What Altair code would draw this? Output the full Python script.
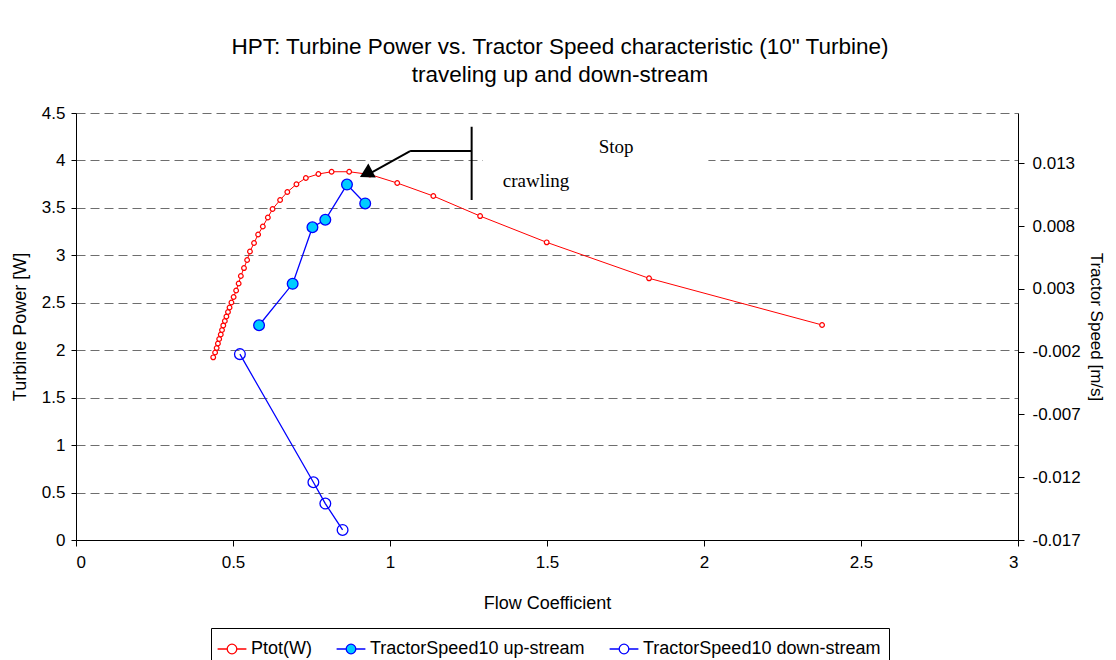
import altair as alt
import pandas as pd

# ---------------- data ----------------
series_names = ["Ptot(W)", "TractorSpeed10 up-stream", "TractorSpeed10 down-stream"]

ptot_flow = [0.437, 0.443, 0.448, 0.452, 0.456, 0.461, 0.465, 0.469, 0.474, 0.479,
             0.484, 0.489, 0.495, 0.502, 0.510, 0.518, 0.525, 0.535, 0.545, 0.554,
             0.567, 0.580, 0.595, 0.611, 0.626, 0.650, 0.673, 0.702, 0.732, 0.772,
             0.814, 0.870, 0.936, 1.023, 1.138, 1.287, 1.499, 1.825, 2.376]
ptot_power = [1.925, 1.976, 2.023, 2.071, 2.118, 2.166, 2.213, 2.261, 2.308, 2.355,
              2.403, 2.450, 2.503, 2.561, 2.629, 2.703, 2.782, 2.866, 2.951, 3.040,
              3.130, 3.220, 3.304, 3.399, 3.488, 3.583, 3.667, 3.749, 3.815, 3.857,
              3.881, 3.881, 3.852, 3.762, 3.625, 3.414, 3.137, 2.758, 2.266]

up_flow = [0.583, 0.690, 0.753, 0.794, 0.863, 0.921]
up_speed = [0.0001, 0.0034, 0.0079, 0.0085, 0.0113, 0.0098]

down_flow = [0.522, 0.756, 0.794, 0.849]
down_speed = [-0.0022, -0.0124, -0.0141, -0.0162]

x_ticks = [0, 0.5, 1, 1.5, 2, 2.5, 3]
yl_ticks = [0, 0.5, 1, 1.5, 2, 2.5, 3, 3.5, 4, 4.5]
yr_ticks = [-0.017, -0.012, -0.007, -0.002, 0.003, 0.008, 0.013]

# annotation: bracket + arrow and the two labels
seg_flow = [1.064, 1.260, 1.064]
seg_flow2 = [1.260, 1.260, 0.935]
seg_power = [4.099, 4.355, 4.099]
seg_power2 = [4.099, 3.583, 3.862]
head_flow = [0.930]
head_power = [3.871]
label_text = ["Stop", "crawling"]
label_flow = [1.720, 1.465]
label_power = [4.142, 3.783]
mask_flow = [1.296]
mask_flow2 = [2.014]
mask_power = [4.34]
mask_power2 = [3.64]

# ---------------- tables ----------------
df_p = pd.DataFrame({"flow": ptot_flow, "power": ptot_power, "series": series_names[0]})
df_s = pd.concat([
    pd.DataFrame({"flow": up_flow, "speed": up_speed, "series": series_names[1]}),
    pd.DataFrame({"flow": down_flow, "speed": down_speed, "series": series_names[2]}),
], ignore_index=True)
df_seg = pd.DataFrame({"flow": seg_flow, "flow2": seg_flow2, "power": seg_power, "power2": seg_power2})
df_head = pd.DataFrame({"flow": head_flow, "power": head_power})
df_lab = pd.DataFrame({"flow": label_flow, "power": label_power, "label": label_text})
df_mask = pd.DataFrame({"flow": mask_flow, "flow2": mask_flow2, "power": mask_power, "power2": mask_power2})

FONT = "Liberation Sans"
RED = "#FF0000"
BLUE = "#0000FF"
CYAN = "#00CCFF"

x_scale = alt.Scale(domain=[0, 3], nice=False, zero=False)
yl_scale = alt.Scale(domain=[0, 4.5], nice=False)
yr_scale = alt.Scale(domain=[-0.017, 0.017], nice=False, zero=False)

x_axis = alt.Axis(title="Flow Coefficient", values=x_ticks, format="~g", grid=False,
                  tickSize=6, labelPadding=8, titlePadding=24)
yl_axis = alt.Axis(title="Turbine Power [W]", values=yl_ticks, format="~g", grid=True,
                   gridDash=[9, 5], gridColor="#6e6e6e", gridWidth=1.2,
                   tickSize=5, labelPadding=6, titlePadding=12, orient="left")
yr_axis = alt.Axis(title="Tractor Speed [m/s]", values=yr_ticks,
                   labelExpr="(datum.value < 0 ? '-' : '') + format(abs(datum.value), '.3f')",
                   grid=False, tickSize=6, labelPadding=8, titlePadding=6,
                   titleFontSize=17, orient="right")

SYMBOL = "M-1.2,0H-0.4M0.4,0H1.2M0.4,0A0.4,0.4,0,1,1,-0.4,0A0.4,0.4,0,1,1,0.4,0Z"
legend = alt.Legend(title=None, orient="none", legendX=135, legendY=515,
                    direction="horizontal", columns=3, symbolType=SYMBOL, symbolSize=576,
                    symbolStrokeWidth=1.3, labelFontSize=18, labelFont=FONT,
                    labelColor="black", labelOffset=6, columnPadding=22, padding=8,
                    strokeColor="black", fillColor="white", labelLimit=400)

stroke_enc = alt.Stroke("series:N", scale=alt.Scale(domain=series_names, range=[RED, BLUE, BLUE]),
                        legend=legend)
fill_enc = alt.Fill("series:N", scale=alt.Scale(domain=series_names, range=["#FFFFFF", CYAN, "transparent"]),
                    legend=legend)

X = alt.X("flow:Q", scale=x_scale, axis=x_axis)
YL = alt.Y("power:Q", scale=yl_scale, axis=yl_axis)
YR = alt.Y("speed:Q", scale=yr_scale, axis=yr_axis)

mask = alt.Chart(df_mask).mark_rect(color="white").encode(x=X, x2="flow2:Q", y=YL, y2="power2:Q")
red_line = alt.Chart(df_p).mark_line(color=RED, strokeWidth=1).encode(x=X, y=YL)
red_pts = alt.Chart(df_p).mark_point(size=22, strokeWidth=1.2, opacity=1).encode(
    x=X, y=YL, stroke=stroke_enc, fill=fill_enc)
rules = alt.Chart(df_seg).mark_rule(color="black", strokeWidth=2).encode(
    x=X, x2="flow2:Q", y=YL, y2="power2:Q")
head = alt.Chart(df_head).mark_point(shape="triangle", filled=True, color="black",
                                     size=250, angle=242, opacity=1).encode(x=X, y=YL)
texts = alt.Chart(df_lab).mark_text(font="Liberation Serif", fontSize=19, color="black").encode(
    x=X, y=YL, text="label:N")

left = alt.layer(mask, red_line, red_pts, rules, head, texts)

blue_line = alt.Chart(df_s).mark_line(color=BLUE, strokeWidth=1.3).encode(
    x=X, y=YR, detail="series:N")
blue_pts = alt.Chart(df_s).mark_point(size=115, strokeWidth=1.3, opacity=1).encode(
    x=X, y=YR, stroke=stroke_enc, fill=fill_enc)

right = alt.layer(blue_line, blue_pts)

chart = alt.layer(left, right).resolve_scale(y="independent").properties(
    width=942, height=427,
    padding={"left": 68, "top": 105, "right": 90, "bottom": 120},
    autosize=alt.AutoSizeParams(type="none"),
    title=alt.TitleParams(
        text=['HPT: Turbine Power vs. Tractor Speed characteristic (10" Turbine)',
              "traveling up and down-stream"],
        fontSize=22.5, font=FONT, fontWeight="normal", color="black",
        offset=18, lineHeight=28, anchor="middle", dx=13),
).configure_view(stroke=None).configure_axis(
    domainColor="black", tickColor="black", labelColor="black", titleColor="black",
    labelFont=FONT, titleFont=FONT, labelFontSize=17, titleFontSize=18,
    titleFontWeight="normal", domainWidth=1, tickWidth=1,
)

chart.save("out.html", embed_options={"renderer": "svg", "actions": False})
